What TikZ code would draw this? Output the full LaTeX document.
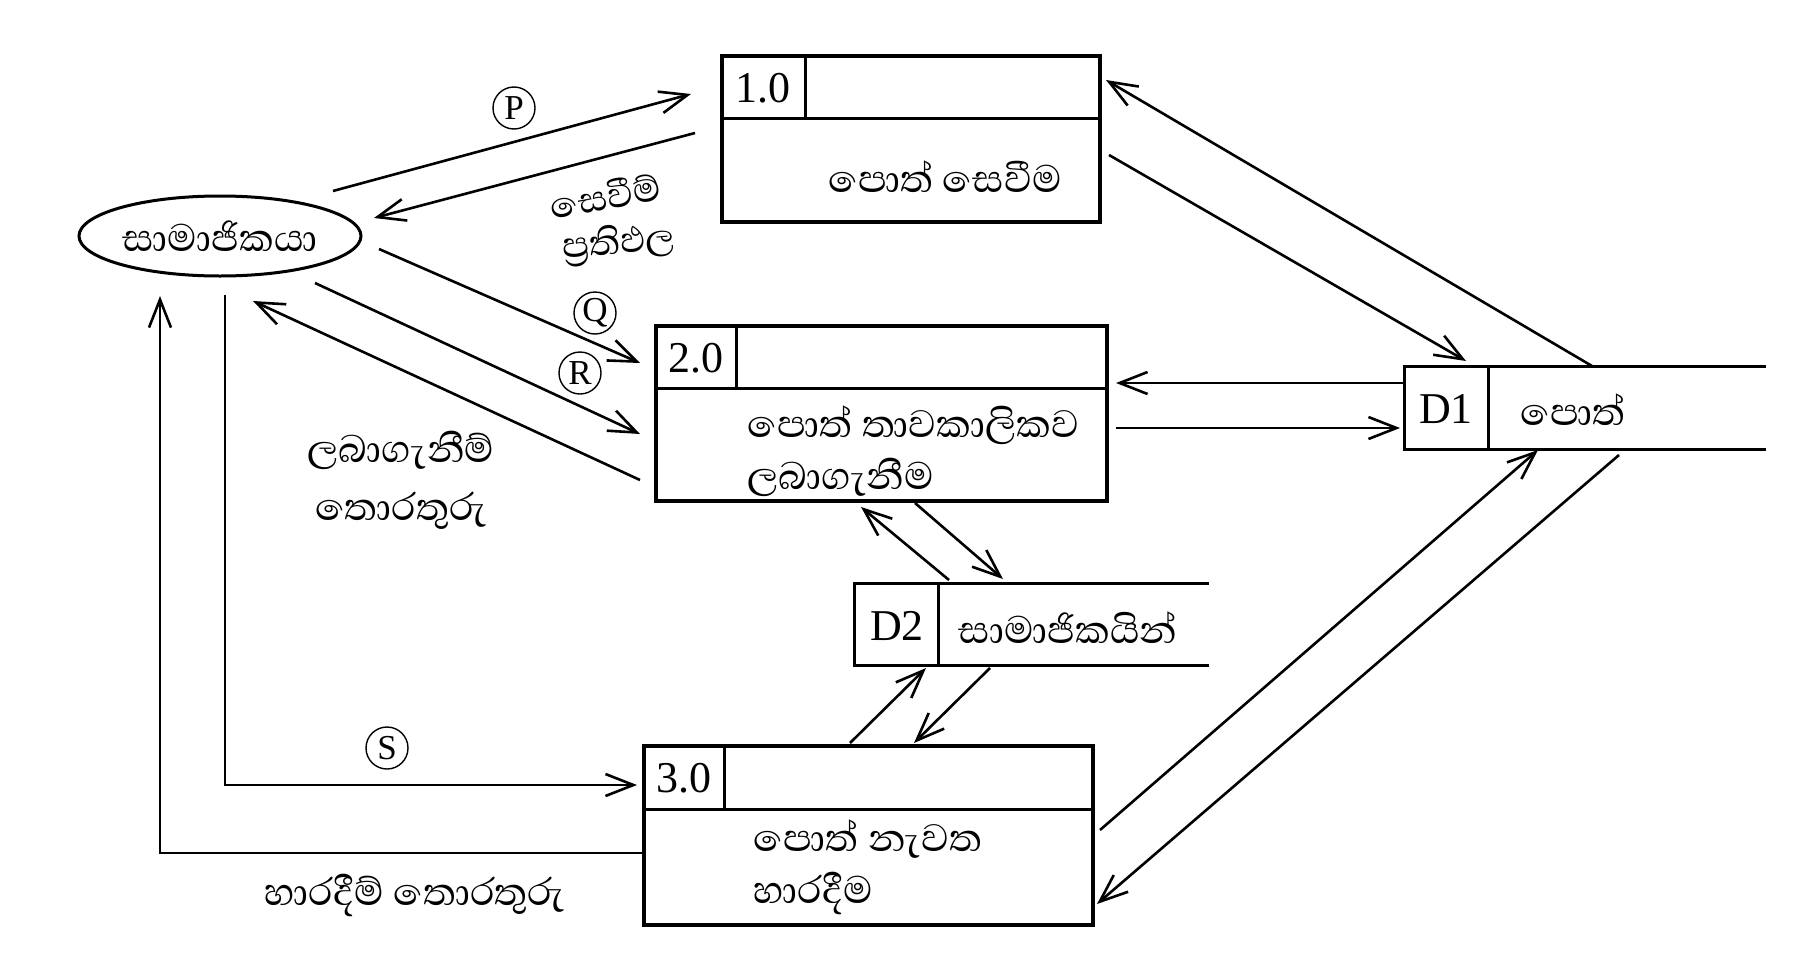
\documentclass[tikz,border=0pt]{standalone}
\usepackage{fontspec}
\setmainfont{Liberation Serif}
\newfontfamily\sinhfont[Script=Sinhala]{Abhaya Libre}
\usetikzlibrary{arrows.meta,shapes.geometric}
\begin{document}
\begin{tikzpicture}[x=1pt,y=-1pt,
  line width=3pt,
  flow/.style={-{Straight Barb[length=28pt,width=22pt,line width=2.6pt]}, line width=2.6pt},
  boxshape/.style={draw, line width=3.2pt, rectangle, inner sep=0pt},
  storeshape/.style={rectangle, inner sep=0pt},
  num/.style={font=\fontsize{44}{50}\selectfont, inner sep=0pt},
  si/.style={font=\sinhfont\fontsize{49}{52}\selectfont, inner sep=0pt},
  lbl/.style={draw, circle, line width=1.4pt, inner sep=0pt, minimum size=42pt, font=\fontsize{35}{35}\selectfont},
]
\useasboundingbox (0,0) rectangle (1809,953);
\fill[white] (0,0) rectangle (1809,953);

% external entity
\node[ellipse, draw, line width=3pt, minimum width=282pt, minimum height=80pt, inner sep=0pt] (ent) at (220,236) {};
\node[si] (entt) at (ent.center) {සාමාජිකයා};

% process 1.0
\node[boxshape, minimum width=378pt, minimum height=166pt] (p1) at (911,139) {};
\draw[line width=3pt] (722,118) -- (1100,118);
\draw[line width=3pt] (805,56) -- (805,118);
\node[num] (p1n) at (763,88) {1.0};
\node[si] (p1t) at (945,177) {පොත් සෙවීම};

% process 2.0
\node[boxshape, minimum width=451pt, minimum height=175pt] (p2) at (881.5,413.5) {};
\draw[line width=3pt] (656,388) -- (1107,388);
\draw[line width=3pt] (736,326) -- (736,388);
\node[num] (p2n) at (696,358) {2.0};
\node[si, align=left, anchor=west] (p2t) at (746,451) {පොත් තාවකාලිකව\\ලබාගැනීම};

% process 3.0
\node[boxshape, minimum width=449pt, minimum height=179pt] (p3) at (868.5,835.5) {};
\draw[line width=3pt] (644,809) -- (1093,809);
\draw[line width=3pt] (724,746) -- (724,809);
\node[num] (p3n) at (684,778) {3.0};
\node[si, align=left, anchor=west] (p3t) at (752,867) {පොත් නැවත\\හාරදීම};

% data store D1
\node[storeshape, minimum width=358pt, minimum height=80pt] (d1) at (1585,408) {};
\draw[line width=3.2pt] (d1.north east) -- (d1.north west) -- (d1.south west) -- (d1.south east);
\draw[line width=3pt] (1488,368) -- (1488,448);
\node[num] (d1n) at (1446,409) {D1};
\node[si] (d1t) at (1573,410) {පොත්};

% data store D2
\node[storeshape, minimum width=351pt, minimum height=79pt] (d2) at (1031.5,624.5) {};
\draw[line width=3.2pt] (d2.north east) -- (d2.north west) -- (d2.south west) -- (d2.south east);
\draw[line width=3pt] (938,585) -- (938,664);
\node[num] (d2n) at (897,626) {D2};
\node[si] (d2t) at (1068,628) {සාමාජිකයින්};

% connector end points
\coordinate (a1s) at (333,191);  \coordinate (a1e) at (691,94);
\coordinate (a2s) at (695,133);  \coordinate (a2e) at (374,218);
\coordinate (a3s) at (379,249);  \coordinate (a3e) at (640,363);
\coordinate (a4s) at (315,283);  \coordinate (a4e) at (640,434);
\coordinate (a5s) at (640,480);  \coordinate (a5e) at (253,301);
\coordinate (a6s) at (644,853);  \coordinate (a6m) at (160,853); \coordinate (a6e) at (160,296);
\coordinate (a7s) at (225,295);  \coordinate (a7m) at (225,785); \coordinate (a7e) at (637,785);
\coordinate (a8s) at (1592,366); \coordinate (a8e) at (1106,80);
\coordinate (a9s) at (1109,155); \coordinate (a9e) at (1466,361);
\coordinate (b1s) at (1403,383); \coordinate (b1e) at (1116,383);
\coordinate (b2s) at (1116,428); \coordinate (b2e) at (1400,428);
\coordinate (b3s) at (915,503);  \coordinate (b3e) at (1003,579);
\coordinate (b4s) at (949,580);  \coordinate (b4e) at (861,507);
\coordinate (b5s) at (850,743);  \coordinate (b5e) at (926,668);
\coordinate (b6s) at (990,668);  \coordinate (b6e) at (914,743);
\coordinate (b7s) at (1100,830); \coordinate (b7e) at (1538,450);
\coordinate (b8s) at (1619,455); \coordinate (b8e) at (1097,904);

\draw[flow] (a1s) -- (a1e);
\draw[flow] (a2s) -- (a2e);
\draw[flow] (a3s) -- (a3e);
\draw[flow] (a4s) -- (a4e);
\draw[flow] (a5s) -- (a5e);
\draw[flow] (a6s) -- (a6m) -- (a6e);
\draw[flow] (a7s) -- (a7m) -- (a7e);
\draw[flow] (a8s) -- (a8e);
\draw[flow] (a9s) -- (a9e);
\draw[flow] (b1s) -- (b1e);
\draw[flow] (b2s) -- (b2e);
\draw[flow] (b3s) -- (b3e);
\draw[flow] (b4s) -- (b4e);
\draw[flow] (b5s) -- (b5e);
\draw[flow] (b6s) -- (b6e);
\draw[flow] (b7s) -- (b7e);
\draw[flow] (b8s) -- (b8e);

% flow labels
\node[lbl] (lp) at (514,108) {P};
\node[lbl] (lq) at (595,313) {Q};
\node[lbl] (lr) at (580,373) {R};
\node[lbl] (ls) at (387,748) {S};
\node[si, rotate=10, font=\sinhfont\fontsize{46}{48}\selectfont] (t1) at (605,195) {සෙවීම්};
\node[si, rotate=5, font=\sinhfont\fontsize{46}{48}\selectfont] (t2) at (619,244) {ප්^^^^200dරතිඵල};
\node[si, align=center, font=\sinhfont\fontsize{49}{58}\selectfont] (t3) at (401,480) {ලබාගැනීම්\\තොරතුරු};
\node[si] (t5) at (415,895) {හාරදීම් තොරතුරු};
\end{tikzpicture}
\end{document}
